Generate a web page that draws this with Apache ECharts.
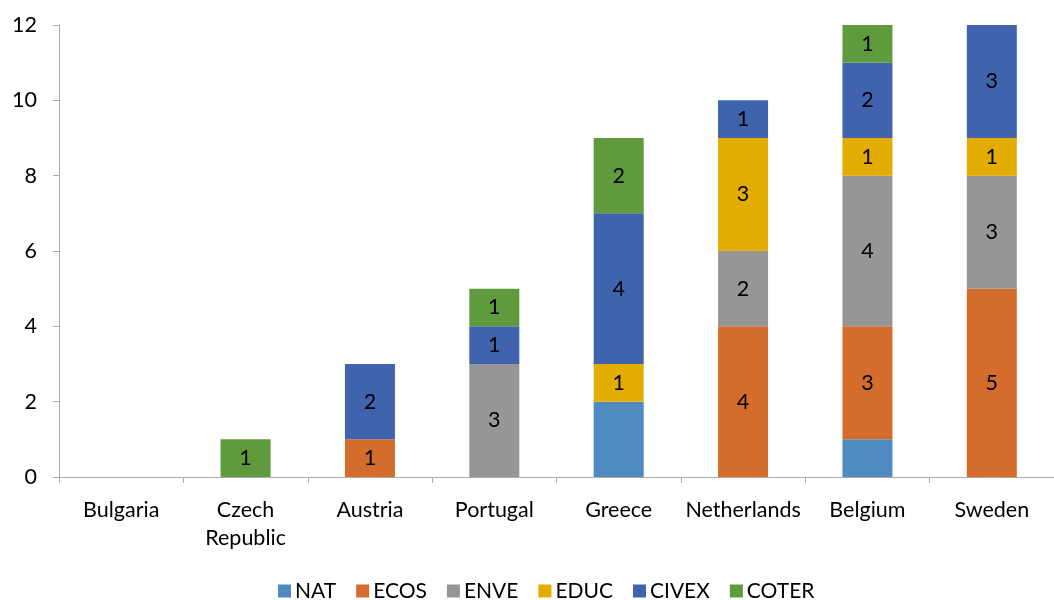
<!DOCTYPE html>
<html>
<head>
<meta charset="utf-8">
<script src="https://cdn.jsdelivr.net/npm/echarts@6/dist/echarts.min.js"></script>
<style>
  html, body { margin: 0; padding: 0; background: #fff; }
  #chart { width: 1054px; height: 600px; }
</style>
</head>
<body>
<div id="chart"></div>
<script>
// Countries along the x axis
const countries = ['Bulgaria', 'Czech\nRepublic', 'Austria', 'Portugal', 'Greece', 'Netherlands', 'Belgium', 'Sweden'];

// Counts per category for each country
const NAT   = [0, 0, 0, 0, 2, 0, 1, 0];
const ECOS  = [0, 0, 1, 0, 0, 4, 3, 5];
const ENVE  = [0, 0, 0, 3, 0, 2, 4, 3];
const EDUC  = [0, 0, 0, 0, 1, 3, 1, 1];
const CIVEX = [0, 0, 2, 1, 4, 1, 2, 3];
const COTER = [0, 1, 0, 1, 2, 0, 1, 0];

const yTicks = [0, 2, 4, 6, 8, 10, 12];

const seriesDefs = [
  { name: 'NAT',   data: NAT,   color: '#4F8BC0', showLabel: false },
  { name: 'ECOS',  data: ECOS,  color: '#D46C2B', showLabel: true },
  { name: 'ENVE',  data: ENVE,  color: '#969696', showLabel: true },
  { name: 'EDUC',  data: EDUC,  color: '#E3AC00', showLabel: true },
  { name: 'CIVEX', data: CIVEX, color: '#3F64AD', showLabel: true },
  { name: 'COTER', data: COTER, color: '#5F9A3C', showLabel: true }
];

const font = 'Lato, "Open Sans", sans-serif';
const fs = 21.5;
const axisGray = '#ABABAB';

const chart = echarts.init(document.getElementById('chart'), null, { renderer: 'canvas' });

chart.setOption({
  animation: false,
  textStyle: { fontFamily: font },
  grid: { left: 59, top: 25, width: 1004, height: 452, containLabel: false },
  legend: {
    left: 273,
    top: 575,
    padding: [4, 5],
    itemWidth: 13,
    itemHeight: 13,
    itemGap: 20,
    icon: 'rect',
    textStyle: { fontFamily: font, fontSize: fs - 0.5, lineHeight: 24, color: '#000', padding: [0, 0, 0, -1] },
    data: seriesDefs.map(s => s.name)
  },
  xAxis: {
    type: 'category',
    data: countries,
    axisLine: { lineStyle: { color: axisGray, width: 1 } },
    axisTick: { show: true, length: 6, alignWithLabel: false, lineStyle: { color: axisGray } },
    axisLabel: { color: '#000', fontSize: fs, fontFamily: font, margin: 19, lineHeight: 28, interval: 0 }
  },
  yAxis: {
    type: 'value',
    min: yTicks[0],
    max: yTicks[yTicks.length - 1],
    interval: 2,
    splitLine: { show: false },
    axisLine: { show: true, lineStyle: { color: axisGray, width: 1 } },
    axisTick: { show: true, length: 6, lineStyle: { color: axisGray } },
    axisLabel: { color: '#000', fontSize: fs, fontFamily: font, margin: 22 }
  },
  series: seriesDefs.map(s => ({
    name: s.name,
    type: 'bar',
    stack: 'total',
    barWidth: 50,
    data: s.data,
    itemStyle: { color: s.color },
    label: {
      show: s.showLabel,
      position: 'inside',
      color: '#000',
      fontSize: fs,
      fontFamily: font,
      formatter: p => (p.value ? String(p.value) : '')
    }
  }))
});
</script>
</body>
</html>
